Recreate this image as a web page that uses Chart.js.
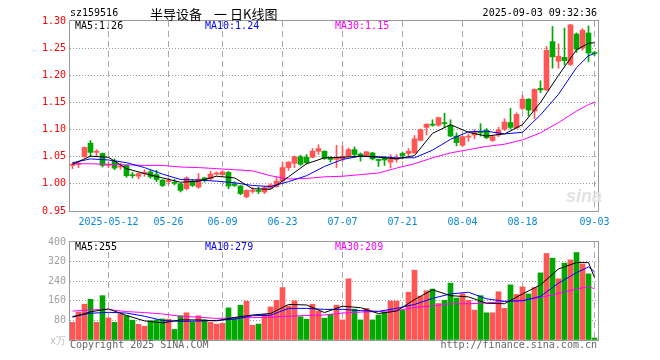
<!DOCTYPE html>
<html>
<head>
<meta charset="utf-8">
<script src="https://cdn.jsdelivr.net/npm/chart.js@4"></script>
<style>
  body { margin: 0; background: #fff; width: 660px; height: 360px; overflow: hidden; position: relative;
         font-family: "DejaVu Sans Mono", monospace; font-size: 10px; }
  .t { position: absolute; white-space: nowrap; line-height: 10px; }
  .cn { position: absolute; white-space: nowrap; font-family: "Noto Sans CJK SC"; font-size: 13px; line-height: 13px; }
  #c1 { position: absolute; left: 0; top: 0; }
  #c2 { position: absolute; left: 0; top: 232px; }
</style>
</head>
<body>
<canvas id="c1" width="660" height="232"></canvas>
<canvas id="c2" width="660" height="128"></canvas>

<div class="t" style="left:70px;top:8px">sz159516</div>
<div class="cn" style="left:150px;top:7px">半导设备</div>
<div class="cn" style="left:214px;top:7px">一</div>
<div class="cn" style="left:230px;top:7px">日K线图</div>
<div class="t" style="right:63px;top:8px">2025-09-03 09:32:36</div>

<div class="t" style="left:75px;top:21px;color:#000">MA5:1.26</div>
<div class="t" style="left:205px;top:21px;color:#0000ff">MA10:1.24</div>
<div class="t" style="left:335px;top:21px;color:#ff00ff">MA30:1.15</div>

<div class="t" style="left:75px;top:242px;color:#000">MA5:255</div>
<div class="t" style="left:205px;top:242px;color:#0000ff">MA10:279</div>
<div class="t" style="left:335px;top:242px;color:#ff00ff">MA30:209</div>

<div class="t" style="left:50px;top:336px;color:#bbb">x万</div>
<div class="t" style="left:70px;top:340px;color:#666">Copyright 2025 SINA.COM</div>
<div class="t" style="right:63px;top:340px;color:#666">http://finance.sina.com.cn</div>
<div style="position:absolute;left:566px;top:186px;font:italic bold 18px 'Liberation Sans';color:#e2e2e2">sina</div>

<script>
// 日K数据 (04-29 .. 09-03, 88 个交易日)
const open = [1.034,1.036,1.050,1.075,1.058,1.056,1.034,1.042,1.031,1.034,
  1.016,1.014,1.019,1.022,1.017,1.007,1.004,1.003,1.000,0.991,
  1.005,0.994,1.011,1.009,1.018,1.017,1.021,1.000,0.996,0.976,
  0.986,0.988,0.985,0.992,0.995,1.005,1.030,1.038,1.050,1.049,
  1.049,1.060,1.060,1.048,1.045,1.046,1.051,1.063,1.055,1.051,
  1.057,1.045,1.048,1.040,1.045,1.056,1.056,1.057,1.080,1.104,
  1.110,1.108,1.113,1.108,1.088,1.071,1.086,1.090,1.096,1.099,
  1.080,1.090,1.101,1.113,1.103,1.139,1.156,1.134,1.176,1.173,
  1.262,1.226,1.233,1.220,1.276,1.250,1.278,1.242]
const close = [1.036,1.037,1.067,1.058,1.060,1.034,1.036,1.029,1.033,1.015,
  1.015,1.019,1.021,1.013,1.008,0.997,1.006,1.001,0.988,1.011,
  0.997,1.009,1.007,1.018,1.020,1.022,0.996,0.997,0.982,0.988,
  0.988,0.986,0.993,0.998,1.005,1.030,1.040,1.050,1.036,1.039,
  1.060,1.065,1.047,1.045,1.049,1.051,1.063,1.054,1.051,1.059,
  1.046,1.043,1.044,1.045,1.047,1.052,1.060,1.083,1.100,1.110,
  1.108,1.122,1.111,1.088,1.076,1.087,1.088,1.095,1.094,1.085,
  1.087,1.099,1.114,1.104,1.128,1.156,1.136,1.174,1.173,1.246,
  1.234,1.235,1.227,1.293,1.248,1.283,1.241,1.240]
const high = [1.039,1.040,1.068,1.080,1.063,1.057,1.039,1.046,1.038,1.035,
  1.021,1.020,1.026,1.025,1.025,1.008,1.011,1.008,1.001,1.013,
  1.008,1.019,1.012,1.023,1.022,1.024,1.023,1.004,0.997,0.989,
  0.993,0.994,0.996,1.000,1.013,1.039,1.041,1.051,1.053,1.054,
  1.065,1.072,1.061,1.050,1.071,1.070,1.066,1.068,1.057,1.060,
  1.058,1.046,1.050,1.054,1.054,1.058,1.065,1.089,1.101,1.111,
  1.118,1.123,1.130,1.118,1.094,1.088,1.092,1.100,1.111,1.102,
  1.090,1.104,1.120,1.139,1.131,1.163,1.157,1.175,1.190,1.253,
  1.290,1.258,1.287,1.294,1.278,1.286,1.291,1.244]
const low = [1.028,1.030,1.049,1.050,1.052,1.031,1.030,1.026,1.027,1.012,
  1.011,1.009,1.014,1.010,1.004,0.995,0.999,0.998,0.985,0.989,
  0.995,0.992,1.003,1.008,1.016,1.016,0.991,0.995,0.980,0.974,
  0.983,0.982,0.982,0.991,0.994,1.003,1.025,1.030,1.034,1.037,
  1.048,1.054,1.045,1.040,1.030,1.042,1.050,1.052,1.042,1.050,
  1.044,1.032,1.034,1.030,1.040,1.046,1.051,1.056,1.079,1.090,
  1.106,1.106,1.103,1.087,1.070,1.069,1.078,1.083,1.088,1.083,
  1.078,1.087,1.098,1.101,1.102,1.136,1.125,1.120,1.168,1.172,
  1.213,1.213,1.219,1.218,1.242,1.246,1.225,1.236]
// 成交量 (万)
const volume = [72,114,146,166,72,181,90,72,106,99,
  81,64,56,79,82,86,85,43,99,111,
  72,99,82,72,65,68,131,91,142,158,
  60,65,105,135,162,214,139,160,95,85,
  146,118,89,105,142,82,250,126,82,129,
  82,102,113,159,159,122,195,285,179,201,
  208,149,162,232,171,188,162,122,181,111,
  111,197,129,225,186,217,188,214,274,353,
  334,250,314,327,357,310,270,8]

// 均线, 读图取值的位置
const maIdx = [0,3,6,9,12,15,18,21,24,27,30,33,36,39,42,45,48,51,54,57,60,63,66,69,72,75,78,81,84,86,87]
const ma5 = [1.036,1.051,1.049,1.028,1.019,1.011,1.003,1.005,1.014,1.011,0.991,0.990,1.013,1.037,1.048,
  1.049,1.051,1.049,1.046,1.052,1.093,1.109,1.095,1.088,1.092,1.109,1.150,1.200,1.247,1.259,1.260]
const ma10 = [1.039,1.046,1.044,1.039,1.030,1.018,1.008,1.007,1.005,1.002,0.997,0.995,1.004,1.015,1.032,
  1.045,1.051,1.050,1.048,1.048,1.062,1.082,1.096,1.097,1.092,1.095,1.127,1.165,1.214,1.236,1.240]
const ma30 = [1.037,1.037,1.036,1.035,1.034,1.034,1.031,1.030,1.028,1.026,1.024,1.015,1.009,1.010,1.013,
  1.014,1.017,1.020,1.029,1.037,1.048,1.057,1.063,1.069,1.073,1.081,1.094,1.113,1.134,1.146,1.150]
const vma5 = [93,115,127,100,78,70,82,82,78,92,102,108,145,143,112,138,132,108,118,165,205,181,176,150,148,188,225,290,316,316,255]
const vma10 = [96,109,113,110,97,80,76,77,80,85,99,101,129,129,125,125,120,117,129,145,170,188,195,168,158,160,178,232,275,298,279]
const vma30 = [118,123,124,116,112,106,97,93,88,90,91,93,97,100,102,110,114,116,120,133,139,148,148,151,157,162,174,190,208,218,209]

const tickIdx = [6,16,25,35,45,55,65,75,87]
const tickText = ['2025-05-12','05-26','06-09','06-23','07-07','07-21','08-04','08-18','09-03']
const priceTicks = [0.95,1.00,1.05,1.10,1.15,1.20,1.25,1.30]
const volTicks = [0,80,160,240,320,400]

const RED = '#ff5555'
const GREEN = '#00a800'
const mono = { family: "'DejaVu Sans Mono', monospace", size: 10 }
const cor = open.map((o, i) => close[i] >= o ? RED : GREEN)

const frame = {
  id: 'frame',
  afterDraw(chart) {
    const { ctx, chartArea: a } = chart
    ctx.save()
    ctx.strokeStyle = '#999'
    ctx.lineWidth = 1
    ctx.strokeRect(a.left - 0.5, a.top - 0.5, a.right - a.left + 1, a.bottom - a.top + 1)
    ctx.restore()
  }
}

function eixoX(labels) {
  return {
    type: 'linear', min: -0.4167, max: 87.5833, offset: false,
    afterBuildTicks: s => { s.ticks = tickIdx.map(v => ({ value: v })) },
    afterFit: s => { s.height = labels ? 21 : 20 },
    ticks: { display: labels, autoSkip: false, maxRotation: 0, color: '#0a88d8', font: mono, padding: 5,
             callback: (v, i) => tickText[i] },
    grid: { color: '#aaa', drawTicks: false, offset: false },
    border: { display: false, dash: [6, 4] }
  }
}

function linha(vals, color) {
  return { type: 'line', data: maIdx.map((k, j) => ({ x: k, y: vals[j] })), borderColor: color,
           borderWidth: 1, pointRadius: 0, tension: 0, fill: false, order: 0 }
}

new Chart(document.getElementById('c1'), {
  type: 'bar',
  data: {
    datasets: [
      linha(ma5, '#000000'),
      linha(ma10, '#0000ff'),
      linha(ma30, '#ff00ff'),
      { data: open.map((o, i) => ({ x: i, y: [o, close[i]] })), backgroundColor: cor,
        barThickness: 5, minBarLength: 1, grouped: false, order: 1 },
      { data: low.map((l, i) => ({ x: i, y: [l, high[i]] })), backgroundColor: cor,
        barThickness: 1, grouped: false, order: 2 }
    ]
  },
  options: {
    responsive: false, animation: false,
    layout: { padding: { top: 21, right: 62, left: 0, bottom: 0 } },
    plugins: { legend: { display: false }, tooltip: { enabled: false } },
    scales: {
      x: eixoX(true),
      y: {
        min: 0.95, max: 1.30,
        afterBuildTicks: s => { s.ticks = priceTicks.map(v => ({ value: v })) },
        afterFit: s => { s.width = 70 },
        ticks: { color: '#ff0000', font: mono, padding: 4, callback: v => v.toFixed(2) },
        grid: { drawTicks: false,
                color: c => (c.tick && (c.tick.value < 0.96 || c.tick.value > 1.29)) ? 'rgba(0,0,0,0)' : '#999' },
        border: { display: false, dash: [1, 2] }
      }
    }
  },
  plugins: [frame]
})

new Chart(document.getElementById('c2'), {
  type: 'bar',
  data: {
    datasets: [
      linha(vma5, '#000000'),
      linha(vma10, '#0000ff'),
      linha(vma30, '#ff00ff'),
      { data: volume.map((v, i) => ({ x: i, y: v })), backgroundColor: cor,
        barThickness: 5, grouped: false, order: 1 }
    ]
  },
  options: {
    responsive: false, animation: false,
    layout: { padding: { top: 8, right: 62, left: 0, bottom: 0 } },
    plugins: { legend: { display: false }, tooltip: { enabled: false } },
    scales: {
      x: eixoX(false),
      y: {
        min: 0, max: 400,
        afterBuildTicks: s => { s.ticks = volTicks.map(v => ({ value: v })) },
        afterFit: s => { s.width = 70 },
        ticks: { color: '#a0a0a0', font: mono, padding: 4, callback: v => v === 0 ? '' : v },
        grid: { drawTicks: false,
                color: c => (c.tick && (c.tick.value === 0 || c.tick.value === 400)) ? 'rgba(0,0,0,0)' : '#999' },
        border: { display: false, dash: [1, 2] }
      }
    }
  },
  plugins: [frame]
})
</script>
</body>
</html>
